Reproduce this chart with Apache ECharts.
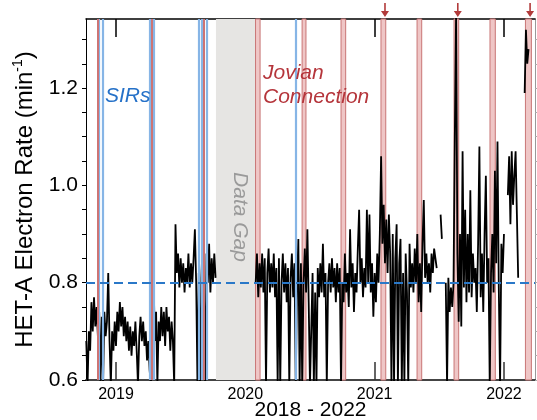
<!DOCTYPE html>
<html>
<head>
<meta charset="utf-8">
<script src="https://cdn.jsdelivr.net/npm/echarts@6/dist/echarts.min.js"></script>
<style>
  html, body { margin: 0; padding: 0; background: #fff; }
  #electronRate { width: 537px; height: 420px; }
</style>
</head>
<body>
<div id="electronRate"></div>
<script>
// time axis in decimal years, rate in counts per minute
const xMin = 2018.768;
const xMax = 2022.24;
const yMin = 0.6;
const yMax = 1.342;
const yearTicks = [2019, 2020, 2021, 2022];
const rateLabels = [0.6, 0.8, 1.0, 1.2];
const rateTicks = [0.6, 0.65, 0.7, 0.75, 0.8, 0.85, 0.9, 0.95, 1.0, 1.05, 1.1, 1.15, 1.2, 1.25, 1.3];
const quietLevel = 0.803;

// samples every 0.01 yr, before and after the data gap (null = no data)
const sampleStep = 0.01;
const seg1Start = 2018.77;
const seg1Rate = [
  0.68, 0.59, 0.70, 0.66, 0.76, 0.70, 0.77, 0.71, 0.75, 0.69,
  0.74, 0.59, 0.73, 0.59, 0.74, 0.69, 0.72, 0.82, 0.68, 0.59,
  0.70, 0.66, 0.72, 0.67, 0.74, 0.70, 0.76, 0.71, 0.75, 0.69,
  0.73, 0.68, 0.72, 0.66, 0.71, 0.65, 0.70, 0.67, 0.72, 0.66,
  0.59, 0.69, 0.73, 0.68, 0.72, 0.67, 0.70, 0.64, 0.68, 0.62,
  0.59, 0.66, 0.82, 0.68, 0.74, 0.59, 0.72, 0.68, 0.75, 0.69,
  0.74, 0.67, 0.75, 0.70, 0.73, 0.66, 0.72, 0.68, 0.59, 0.92,
  0.82, 0.86, 0.79, 0.85, 0.80, 0.84, 0.78, 0.83, 0.80, 0.86,
  0.79, 0.84, 0.80, 0.85, 0.91, 0.80, 0.59, 0.82, 0.59, 0.81,
  0.88, 0.79, 0.59, 0.86, 0.80, 0.88, 0.78, 0.85, 0.80, 0.86,
  0.81
];
const seg2Start = 2020.08;
const seg2Rate = [
  0.80, 0.86, 0.77, 0.84, 0.79, 0.86, 0.78, 0.85, 0.59, 0.82,
  0.87, 0.78, 0.84, 0.79, 0.86, 0.77, 0.83, 0.59, 0.85, 0.59,
  0.80, 0.86, 0.78, 0.84, 0.76, 0.83, 0.59, 0.81, 0.86, 0.77,
  0.84, 0.59, 0.79, 0.89, 0.59, 0.84, 0.59, 0.80, 0.87, 0.78,
  0.91, 0.76, 0.59, 0.59, 0.82, 0.59, 0.78, 0.59, 0.83, 0.77,
  0.84, 0.78, 0.88, 0.77, 0.82, 0.59, 0.80, 0.84, 0.78, 0.85,
  0.79, 0.83, 0.76, 0.84, 0.78, 0.83, 0.59, 0.80, 0.76, 0.86,
  0.78, 0.82, 0.75, 0.91, 0.79, 0.84, 0.74, 0.82, 0.78, 0.87,
  0.95, 0.80, 0.85, 0.77, 0.83, 0.79, 0.95, 0.80, 0.94, 0.78,
  0.84, 0.73, 0.82, 0.76, 0.86, 0.80, 0.90, 1.06, 0.88, 0.96,
  0.84, 0.93, 0.82, 0.94, 0.86, 0.59, 0.90, 0.59, 0.85, 0.92,
  0.59, 0.84, 0.89, 0.59, 0.82, 0.59, 0.86, 0.78, 0.59, 0.88,
  0.79, 0.84, 0.78, 0.87, 0.80, 0.90, 0.76, 0.84, 0.74, 0.88,
  0.97, 0.81, 0.86, 0.80, 0.84, 0.78, 0.86, 0.82, 0.87, 0.85,
  0.83, null, null, 0.94, 0.89, null, null, 0.80, 0.59, 0.81,
  0.74, 0.79, 0.75, 0.80, 1.10, 1.36, 0.86, 0.72, 0.90, 0.71,
  1.07, 0.79, 0.95, 0.76, 0.90, 0.78, 0.99, 0.77, 0.86, 0.80,
  0.83, 0.74, 0.88, 1.08, 0.77, 0.86, 0.74, 0.90, 1.02, 0.80,
  0.85, 0.59, 0.82, 0.90, 0.78, 1.03, 0.84, 1.09, 0.79, 0.59,
  0.88, 0.82, 0.90, null, null, 0.98, 1.06, 0.92, 1.07, 0.96,
  1.02, 1.07, 0.94, 0.81, null, null, null, null, 1.19, 1.32,
  1.25, 1.28
];

// stream interaction regions (blue) and narrow jovian marks near them (red)
const sirLines = [2018.872, 2018.899, 2019.259, 2019.290, 2019.638, 2019.657, 2019.700, 2020.392];
const jovianLines = [2018.857, 2019.275, 2019.677];
// jovian connection intervals [start, end]
const jovianBands = [
  [2020.079, 2020.114], [2020.439, 2020.469], [2020.740, 2020.776],
  [2021.049, 2021.086], [2021.328, 2021.364], [2021.614, 2021.650],
  [2021.892, 2021.933], [2022.166, 2022.212]
];
const dataGap = [2019.773, 2020.077];
const arrowYears = [2021.08, 2021.643, 2022.202];

const font = 'Liberation Sans, Arial, Helvetica, sans-serif';

function buildSeries() {
  const pts = [];
  seg1Rate.forEach((v, i) => {
    pts.push([seg1Start + i * sampleStep, v === null ? '-' : v]);
  });
  pts.push([dataGap[0] + 0.1, '-']);
  seg2Rate.forEach((v, i) => {
    pts.push([seg2Start + i * sampleStep, v === null ? '-' : v]);
  });
  return pts;
}

function draw() {
  const chartEle = document.getElementById('electronRate');
  const myChart = echarts.init(chartEle, null, { renderer: 'canvas' });

  const bandAreas = jovianBands.map(b => [
    { xAxis: b[0], itemStyle: { color: '#efc6c6', borderColor: '#c97676', borderWidth: 1 } },
    { xAxis: b[1] }
  ]);
  bandAreas.unshift([
    { xAxis: dataGap[0], itemStyle: { color: '#e6e5e3', borderWidth: 0 } },
    { xAxis: dataGap[1] }
  ]);

  const markLines = [];
  sirLines.forEach(v => {
    markLines.push({ xAxis: v, lineStyle: { color: '#86b5e6', width: 2.2, type: 'solid' } });
  });
  jovianLines.forEach(v => {
    markLines.push({ xAxis: v, lineStyle: { color: '#cd7474', width: 2, type: 'solid' } });
  });

  const option = {
    animation: false,
    textStyle: { fontFamily: font },
    grid: { left: 86, right: 2, top: 19, bottom: 40, containLabel: false, outerBoundsMode: 'none' },
    xAxis: [
      {
        type: 'value',
        min: xMin,
        max: xMax,
        position: 'bottom',
        name: '2018 - 2022',
        nameLocation: 'middle',
        nameGap: 20,
        nameMoveOverlap: false,
        nameTextStyle: { fontSize: 21, color: '#000', fontFamily: font },
        axisLine: { show: true, onZero: false, lineStyle: { color: '#444', width: 2 } },
        axisTick: { show: true, inside: true, length: 18, customValues: yearTicks, lineStyle: { color: '#333', width: 1.5 } },
        axisLabel: {
          customValues: yearTicks,
          formatter: v => String(Math.round(v)),
          fontSize: 16,
          color: '#000',
          margin: 7
        },
        splitLine: { show: false }
      },
      {
        type: 'value',
        min: xMin,
        max: xMax,
        position: 'top',
        axisLine: { show: true, onZero: false, lineStyle: { color: '#000', width: 1.5 } },
        axisTick: { show: true, inside: true, length: 18, customValues: yearTicks, lineStyle: { color: '#000', width: 1.5 } },
        axisLabel: { show: false },
        splitLine: { show: false }
      }
    ],
    yAxis: [
      {
        type: 'value',
        min: yMin,
        max: yMax,
        position: 'left',
        name: '{a|HET-A Electron Rate (min}{s|-1}{a|)}',
        nameLocation: 'middle',
        nameRotate: 90,
        nameGap: 47,
        nameMoveOverlap: false,
        nameTextStyle: {
          rich: {
            a: { fontSize: 24, color: '#000', fontFamily: font, lineHeight: 28 },
            s: { fontSize: 14, color: '#000', fontFamily: font, verticalAlign: 'top', lineHeight: 15 }
          }
        },
        axisLine: { show: true, onZero: false, lineStyle: { color: '#000', width: 1 } },
        axisTick: { show: true, length: 4, customValues: rateTicks, lineStyle: { color: '#000' } },
        axisLabel: {
          customValues: rateLabels,
          formatter: v => v.toFixed(1),
          fontSize: 21,
          color: '#000',
          margin: 8
        },
        splitLine: { show: false }
      },
      {
        type: 'value',
        min: yMin,
        max: yMax,
        position: 'right',
        axisLine: { show: true, onZero: false, lineStyle: { color: '#999', width: 1 } },
        axisTick: { show: true, length: 3, customValues: rateTicks, lineStyle: { color: '#aaa' } },
        axisLabel: { show: false },
        splitLine: { show: false }
      }
    ],
    series: [
      {
        // shaded intervals and event lines
        type: 'line',
        z: 1,
        data: [],
        markArea: { silent: true, label: { show: false }, data: bandAreas },
        markLine: { silent: true, symbol: ['none', 'none'], label: { show: false }, data: markLines }
      },
      {
        name: 'HET-A',
        type: 'line',
        z: 3,
        showSymbol: false,
        connectNulls: false,
        clip: true,
        sampling: null,
        lineStyle: { color: '#000', width: 1.8 },
        data: buildSeries()
      },
      {
        // quiet-time level and arrows
        type: 'line',
        z: 4,
        data: [],
        markLine: {
          silent: true,
          symbol: ['none', 'none'],
          label: { show: false },
          data: [{ yAxis: quietLevel, lineStyle: { color: '#2a78c8', width: 2, type: [9, 5] } }]
        },
        markPoint: {
          silent: true,
          symbol: 'path://M3.2,0 L4.8,0 L4.8,8 L8,8 L4,14 L0,8 L3.2,8 Z',
          symbolSize: [8, 14],
          symbolOffset: [0, -9],
          itemStyle: { color: '#b23b3b' },
          label: { show: false },
          data: arrowYears.map(v => ({ coord: [v, yMax] }))
        }
      }
    ],
    graphic: [
      {
        type: 'text',
        z: 100,
        x: 105,
        y: 86,
        style: { text: 'SIRs', font: 'italic 21px ' + font, fill: '#2571c8' }
      },
      {
        type: 'text',
        z: 100,
        x: 263,
        y: 61,
        style: { text: 'Jovian\nConnection', font: 'italic 21px ' + font, fill: '#b5353b', lineHeight: 24 }
      },
      {
        type: 'text',
        z: 100,
        x: 240,
        y: 217,
        rotation: -Math.PI / 2,
        style: { text: 'Data Gap', font: 'italic 21px ' + font, fill: '#9a9a9a', align: 'center', verticalAlign: 'middle' }
      }
    ]
  };
  myChart.setOption(option);
}

draw();
</script>
</body>
</html>
